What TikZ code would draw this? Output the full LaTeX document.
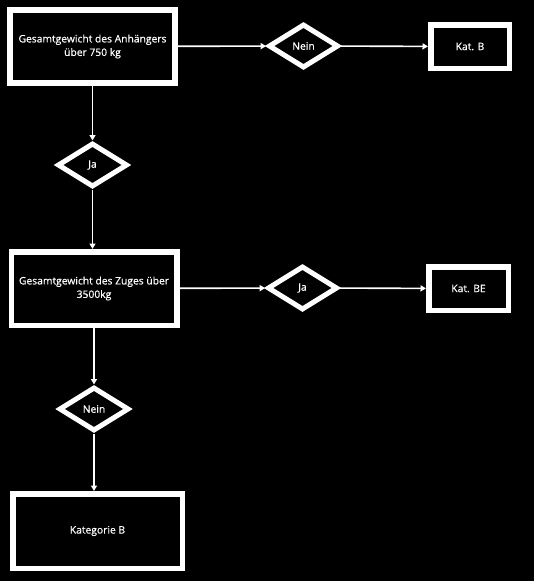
\documentclass[tikz,border=0pt]{standalone}
\usepackage{fontspec}
\setmainfont{Open Sans}
\newfontfamily\lblfont{Open Sans}[FakeBold=0.5]
\usetikzlibrary{shapes.geometric,arrows.meta}
\begin{document}
\begin{tikzpicture}[x=1pt,y=-1pt,
  box/.style={draw=white,fill=black,line width=5.5pt,rectangle,inner sep=0pt,
    text=white,align=center,font=\lblfont\fontsize{10.3}{13.5}\selectfont},
  dia/.style={draw=white,fill=black,line width=5pt,diamond,inner sep=0pt,
    minimum width=70pt,minimum height=44pt,text=white,font=\lblfont\fontsize{10.3}{12}\selectfont},
  arr/.style={draw=white,line width=1.6pt,-{Triangle[length=5.5pt,width=6pt]}}]
\fill[black] (0,0) rectangle (534,581);
\useasboundingbox (0,0) rectangle (534,581);
\node[box,minimum width=165pt,minimum height=73pt] (b1) at (92.5,46.5) {Gesamtgewicht des Anhängers\\über 750 kg};
\node[dia] (n1) at (303.5,46) {Nein};
\node[box,minimum width=78.5pt,minimum height=43.5pt] (kb) at (470,46.5) {Kat. B};
\node[dia] (j1) at (92.5,165) {Ja};
\node[box,minimum width=165.5pt,minimum height=73.5pt] (b2) at (94,288.5) {Gesamtgewicht des Zuges über\\3500kg};
\node[dia] (j2) at (302.5,288) {Ja};
\node[box,minimum width=79.5pt,minimum height=43.5pt] (kbe) at (468.5,288.5) {Kat. BE};
\node[dia] (n2) at (94,409) {Nein};
\node[box,minimum width=169.5pt,minimum height=74.5pt] (kat) at (97.5,531) {Kategorie B};
\draw[arr] (b1) -- (n1);
\draw[arr] (n1) -- (kb);
\draw[arr] (b1) -- (j1);
\draw[arr] (j1) -- (b1 |- b2.north);
\draw[arr] (b2) -- (j2);
\draw[arr] (j2) -- (kbe);
\draw[arr] (b2) -- (n2);
\draw[arr] (n2) -- (n2 |- kat.north);
\end{tikzpicture}
\end{document}
